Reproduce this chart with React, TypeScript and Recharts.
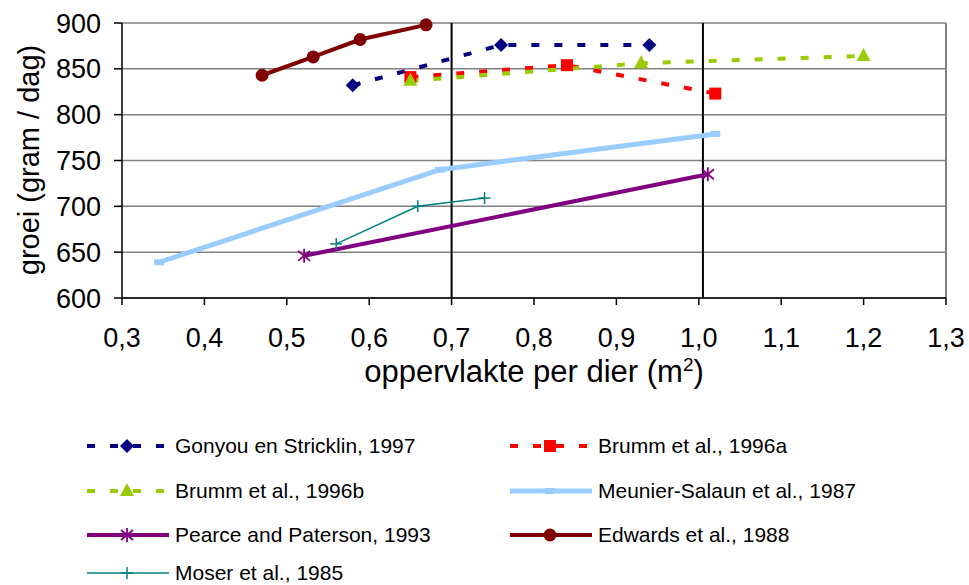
import React from "react";
import { CartesianGrid, Line, LineChart, ReferenceLine, XAxis, YAxis } from "recharts";

const FONT = "'Liberation Sans', Arial, sans-serif";

const xTicks = [0.3, 0.4, 0.5, 0.6, 0.7, 0.8, 0.9, 1.0, 1.1, 1.2, 1.3];
const yTicks = [600, 650, 700, 750, 800, 850, 900];
const markerLinesX = [0.7, 1.005];

const gonyouX = [0.58, 0.76, 0.94];
const gonyouY = [832, 876, 876];
const brummAX = [0.65, 0.84, 1.02];
const brummAY = [841, 854, 823];
const brummBX = [0.65, 0.93, 1.2];
const brummBY = [837, 856, 864];
const meunierX = [0.345, 0.686, 1.02];
const meunierY = [639, 740, 779];
const pearceX = [0.521, 1.011];
const pearceY = [646, 735];
const edwardsX = [0.47, 0.532, 0.589, 0.669];
const edwardsY = [843, 863, 882, 898];
const moserX = [0.56, 0.659, 0.74];
const moserY = [659, 700, 709];

const pts = (xs: number[], ys: number[]) => xs.map((x, i) => ({ x, y: ys[i] }));

type Kind = "diamond" | "square" | "triangle" | "rect" | "asterisk" | "circle" | "plus";

function Marker({ kind, cx, cy, color }: { kind: Kind; cx: number; cy: number; color: string }) {
  switch (kind) {
    case "diamond":
      return <polygon points={`${cx},${cy - 7} ${cx + 7},${cy} ${cx},${cy + 7} ${cx - 7},${cy}`} fill={color} />;
    case "square":
      return <rect x={cx - 6} y={cy - 6} width={12} height={12} fill={color} />;
    case "triangle":
      return <polygon points={`${cx},${cy - 8} ${cx + 7},${cy + 5} ${cx - 7},${cy + 5}`} fill={color} />;
    case "rect":
      return <rect x={cx - 5} y={cy - 3} width={10} height={6} fill={color} />;
    case "circle":
      return <circle cx={cx} cy={cy} r={6.5} fill={color} />;
    case "asterisk":
      return (
        <g stroke={color} strokeWidth={1.8}>
          <line x1={cx} y1={cy - 7} x2={cx} y2={cy + 7} />
          <line x1={cx - 6} y1={cy - 5} x2={cx + 6} y2={cy + 5} />
          <line x1={cx - 6} y1={cy + 5} x2={cx + 6} y2={cy - 5} />
        </g>
      );
    case "plus":
      return (
        <g stroke={color} strokeWidth={1.5}>
          <line x1={cx} y1={cy - 6} x2={cx} y2={cy + 6} />
          <line x1={cx - 6} y1={cy} x2={cx + 6} y2={cy} />
        </g>
      );
  }
}

const series = [
  { name: "Gonyou en Stricklin, 1997", data: pts(gonyouX, gonyouY), color: "#000080", width: 4, dash: "8 15", kind: "diamond" as Kind },
  { name: "Brumm et al., 1996a", data: pts(brummAX, brummAY), color: "#FF0000", width: 4, dash: "8 15", kind: "square" as Kind },
  { name: "Brumm et al., 1996b", data: pts(brummBX, brummBY), color: "#99CC00", width: 4, dash: "8 15", kind: "triangle" as Kind },
  { name: "Meunier-Salaun et al., 1987", data: pts(meunierX, meunierY), color: "#99CCFF", width: 5, dash: undefined, kind: "rect" as Kind },
  { name: "Pearce and Paterson, 1993", data: pts(pearceX, pearceY), color: "#800080", width: 4, dash: undefined, kind: "asterisk" as Kind },
  { name: "Edwards et al., 1988", data: pts(edwardsX, edwardsY), color: "#800000", width: 4, dash: undefined, kind: "circle" as Kind },
  { name: "Moser et al., 1985", data: pts(moserX, moserY), color: "#008080", width: 1.5, dash: undefined, kind: "plus" as Kind },
];

const legendRowsY = [446, 491, 535, 573];

function LegendIcon({ s }: { s: (typeof series)[number] }) {
  return (
    <svg width={82} height={16} style={{ display: "block" }}>
      <line x1={0} y1={8} x2={82} y2={8} stroke={s.color} strokeWidth={s.width} strokeDasharray={s.dash} />
      <Marker kind={s.kind} cx={40} cy={8} color={s.color} />
    </svg>
  );
}

const fmt = (v: number) => v.toFixed(1).replace(".", ",");

export default function App() {
  return (
    <div style={{ position: "absolute", left: 0, top: 0, width: 969, height: 585, background: "#fff", fontFamily: FONT }}>
      <LineChart width={969} height={585} margin={{ top: 23, right: 23, bottom: 207, left: 0 }}>
        <CartesianGrid vertical={false} stroke="#808080" strokeWidth={1.5} />
        <XAxis
          type="number"
          dataKey="x"
          domain={[0.3, 1.3]}
          ticks={xTicks}
          tickFormatter={fmt}
          stroke="#000"
          strokeWidth={1.5}
          tickSize={7}
          tickMargin={23}
          tick={{ fill: "#000", fontSize: 27, fontFamily: FONT }}
          height={80}
          allowDataOverflow
        />
        <YAxis
          type="number"
          dataKey="y"
          domain={[600, 900]}
          ticks={yTicks}
          width={122}
          stroke="#000"
          strokeWidth={1.5}
          tickSize={8}
          tickMargin={13}
          tick={{ fill: "#000", fontSize: 27, fontFamily: FONT }}
          label={{
            content: () => (
              <text x={39} y={160} transform="rotate(-90 39 160)" textAnchor="middle" fontSize={29} fontFamily={FONT} fill="#000">
                groei (gram / dag)
              </text>
            ),
          }}
        />
        <ReferenceLine x={1.3} stroke="#808080" strokeWidth={2} />
        {markerLinesX.map((x) => (
          <ReferenceLine key={x} x={x} stroke="#000" strokeWidth={2} />
        ))}
        {series.map((s) => (
          <Line
            key={s.name}
            data={s.data}
            dataKey="y"
            type="linear"
            stroke={s.color}
            strokeWidth={s.width}
            strokeDasharray={s.dash}
            isAnimationActive={false}
            dot={(p: any) => <Marker key={p.index} kind={s.kind} cx={p.cx} cy={p.cy} color={s.color} />}
            activeDot={false}
          />
        ))}
        <text x={534} y={382} textAnchor="middle" fontSize={31} fontFamily={FONT} fill="#000">
          oppervlakte per dier (m<tspan dy={-11} fontSize={19}>2</tspan><tspan dy={11}>)</tspan>
        </text>
      </LineChart>
      <div style={{ position: "absolute", left: 0, top: 0 }}>
        {series.map((s, k) => {
          const col = k % 2;
          const row = Math.floor(k / 2);
          return (
            <div
              key={s.name}
              style={{
                position: "absolute",
                left: col === 0 ? 87 : 510,
                top: legendRowsY[row] - 12,
                display: "flex",
                alignItems: "center",
                whiteSpace: "nowrap",
                fontSize: 21,
                lineHeight: "24px",
                height: 24,
              }}
            >
              <LegendIcon s={s} />
              <span style={{ marginLeft: 6 }}>{s.name}</span>
            </div>
          );
        })}
      </div>
    </div>
  );
}
